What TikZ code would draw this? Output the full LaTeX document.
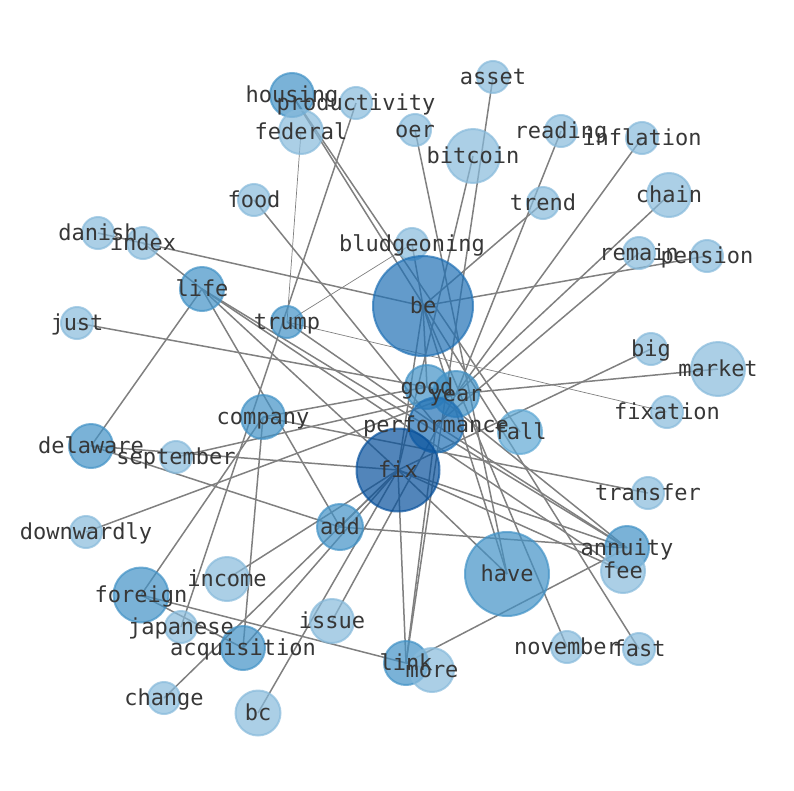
\documentclass[tikz,border=0pt]{standalone}
\usepackage{fontspec}
\setmonofont{DejaVu Sans Mono}
\usetikzlibrary{backgrounds}
\definecolor{cl}{RGB}{135,186,219}
\definecolor{cm}{RGB}{66,146,198}
\definecolor{cf}{RGB}{95,168,212}
\definecolor{cb}{RGB}{33,113,181}
\definecolor{cx}{RGB}{8,81,156}
\definecolor{lblc}{RGB}{55,55,55}
\tikzset{
  vtx/.style={circle, inner sep=0pt, minimum size=#1, line width=2pt, opacity=0.7},
  vl/.style={vtx=32pt, fill=cl, draw=cl},
  vlm/.style={vtx=44pt, fill=cl, draw=cl},
  vlb/.style={vtx=54pt, fill=cl, draw=cl},
  vm/.style={vtx=44pt, fill=cm, draw=cm},
  lbl/.style={inner sep=0pt, text height=15pt, text depth=0pt, text=lblc, font=\ttfamily\fontsize{22}{26}\selectfont},
  edge/.style={draw=black!50, line width=1.5pt},
  thin/.style={draw=black!50, line width=0.7pt}
}
\begin{document}
\begin{tikzpicture}[x=1pt, y=-1pt]
\useasboundingbox (0,0) rectangle (794,790);
% nodes
\node[vl] (asset) at (493,77) {};
\node[vm] (housing) at (292,95) {};
\node[vl] (productivity) at (356,103) {};
\node[vlm] (federal) at (301,132) {};
\node[vl] (oer) at (415,130) {};
\node[vlb] (bitcoin) at (473,156) {};
\node[vl] (reading) at (561,131) {};
\node[vl] (inflation) at (642,138) {};
\node[vlm] (chain) at (669,195) {};
\node[vl] (trend) at (543,203) {};
\node[vl] (remain) at (639,253) {};
\node[vl] (pension) at (707,256) {};
\node[vl] (food) at (254,200) {};
\node[vl] (bludgeoning) at (412,244) {};
\node[vl] (danish) at (98,233) {};
\node[vl] (index) at (143,243) {};
\node[vm] (life) at (202,289) {};
\node[vl] (just) at (77,323) {};
\node[vtx=32pt, fill=cm, draw=cm] (trump) at (287,322) {};
\node[vtx=100pt, fill=cb, draw=cb] (be) at (423,306) {};
\node[vm] (company) at (263,417) {};
\node[vm] (delaware) at (91,446) {};
\node[vl] (september) at (176,457) {};
\node[vl] (big) at (651,349) {};
\node[vlb] (market) at (718,369) {};
\node[vl] (fixation) at (667,412) {};
\node[vm] (good) at (427,387) {};
\node[vtx=46pt, fill=cm, draw=cm] (year) at (456,394) {};
\node[vtx=55pt, fill=cb, draw=cb] (performance) at (436,425) {};
\node[vtx=44pt, fill=cf, draw=cf] (fall) at (520,432) {};
\node[vtx=83pt, fill=cx, draw=cx] (fix) at (398,470) {};
\node[vl] (transfer) at (648,493) {};
\node[vl] (downwardly) at (86,532) {};
\node[vtx=46pt, fill=cm, draw=cm] (add) at (340,527) {};
\node[vm] (annuity) at (627,548) {};
\node[vlm] (fee) at (623,571) {};
\node[vtx=84pt, fill=cm, draw=cm] (have) at (507,574) {};
\node[vlm] (income) at (227,579) {};
\node[vtx=55pt, fill=cm, draw=cm] (foreign) at (141,595) {};
\node[vl] (japanese) at (181,627) {};
\node[vlm] (issue) at (332,621) {};
\node[vm] (acquisition) at (243,648) {};
\node[vm] (link) at (406,663) {};
\node[vlm] (more) at (432,670) {};
\node[vl] (november) at (567,647) {};
\node[vl] (fast) at (639,649) {};
\node[vl] (change) at (164,698) {};
\node[vtx=45pt, fill=cl, draw=cl] (bc) at (258,713) {};
% labels
\foreach \n in {asset,housing,productivity,federal,oer,bitcoin,reading,inflation,chain,trend,remain,pension,food,bludgeoning,danish,index,life,just,trump,be,company,delaware,september,big,market,fixation,good,year,performance,fall,fix,transfer,downwardly,add,annuity,fee,have,income,foreign,japanese,issue,acquisition,link,more,november,fast,change,bc}
  \node[lbl] (\n-l) at (\n.center) {\n};
% edges
\begin{scope}[on background layer]
\foreach \a/\b in {danish/be, index/life, life/delaware, life/add, life/fix, life/annuity, life/fee,
  productivity/japanese, housing/fall, housing/fast, food/performance, just/good,
  delaware/fix, delaware/add, september/year, downwardly/year, foreign/company, foreign/link,
  foreign/acquisition, company/acquisition, company/transfer, company/good, income/fix,
  acquisition/fix, change/fix, bc/fix, issue/year, link/fix, link/performance, link/annuity,
  link/more, fix/have, fix/fee, fix/annuity, add/annuity, add/fix, fix/big, market/year,
  be/have, be/november, oer/have, asset/link, bitcoin/fix, reading/year, inflation/year,
  chain/year, remain/performance, pension/be, trend/be, performance/annuity,
  trump/performance, be/fix, good/annuity, bludgeoning/be, good/be, year/good}
  \draw[edge] (\a.center) -- (\b.center);
\foreach \a/\b in {federal/trump, bludgeoning/trump, trump/fixation}
  \draw[thin] (\a.center) -- (\b.center);
\end{scope}
\end{tikzpicture}
\end{document}
